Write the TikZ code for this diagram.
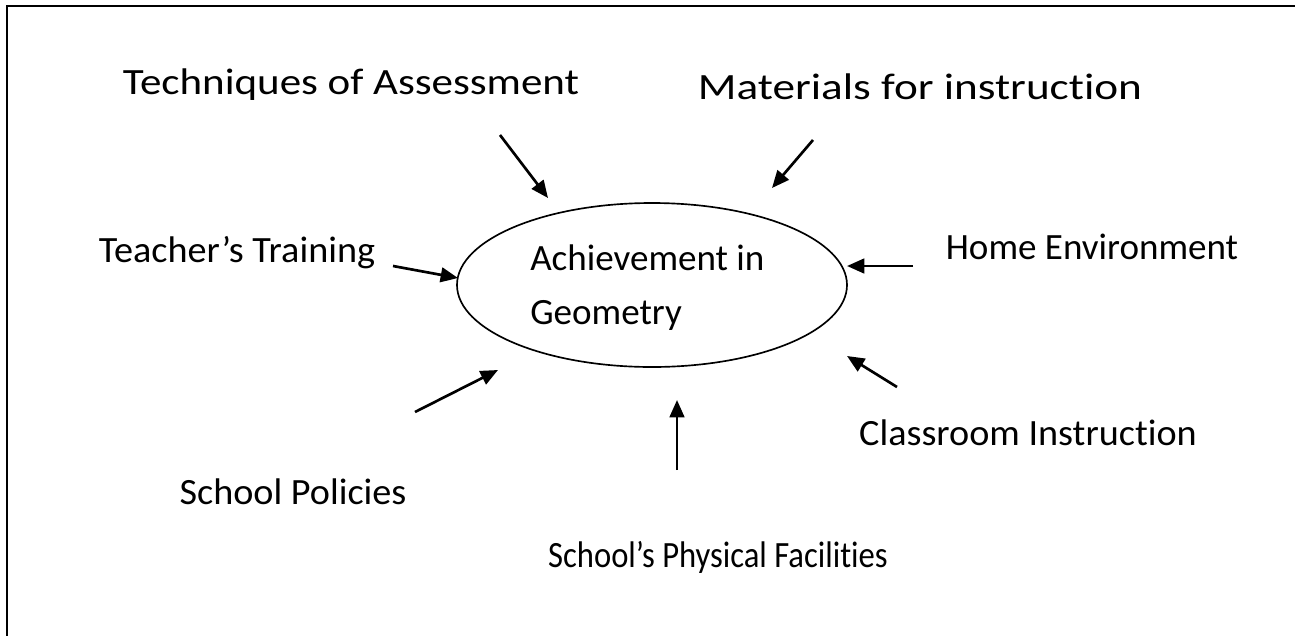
\documentclass[tikz,border=0pt]{standalone}
\usepackage{fontspec}
\setmainfont{Carlito}[Ligatures=NoCommon]
\usetikzlibrary{arrows.meta}

\begin{document}
\begin{tikzpicture}[x=0.75pt,y=0.75pt,yscale=-1,xscale=1,
  factor/.style={anchor=base,inner sep=0pt,font=\fontsize{27.8}{33}\selectfont},
  influence/.style={line width=2pt,-{Triangle[length=13pt,width=11pt]}}]
\useasboundingbox (0,0) rectangle (1295,636);

%Frame (only top and left edges show)
\draw [line width=1.6pt]  (1295,6) -- (7,6) -- (7,636) ;

%Shape: Ellipse
\draw [line width=1.25pt] (652,285) ellipse (195 and 82) ;
\node (goal) [anchor=base west,inner sep=0pt,font=\fontsize{27.8}{33}\selectfont] at (530,270) {Achievement in};
\node (goal2) [anchor=base west,inner sep=0pt,font=\fontsize{27.8}{33}\selectfont] at (530,324) {Geometry};

% Text Node
\node (assess) [factor,xscale=1.16] at (351,94) {Techniques of Assessment};
% Text Node
\node (material) [factor,xscale=1.22] at (920,99) {Materials for instruction};
% Text Node
\node (teacher) [factor,xscale=1.03] at (237,262) {Teacher’s Training};
% Text Node
\node (home) [factor] at (1092,259) {Home Environment};
% Text Node
\node (classroom) [factor,xscale=1.03] at (1028,445) {Classroom Instruction};
% Text Node
\node (policy) [factor,xscale=1.03] at (293,504) {School Policies};
% Text Node
\node (facility) [factor,xscale=0.88] at (718,567) {School’s Physical Facilities};

%Arrow ends
\coordinate (assessT) at (500,135);   \coordinate (assessH) at (548,198);
\coordinate (materialT) at (813,140); \coordinate (materialH) at (772,188);
\coordinate (teacherT) at (393,266);  \coordinate (teacherH) at (458,278);
\coordinate (homeT) at (913,266);     \coordinate (homeH) at (847,266);
\coordinate (classT) at (897,387);    \coordinate (classH) at (847,356);
\coordinate (policyT) at (415,412);   \coordinate (policyH) at (498,370);
\coordinate (facilityT) at (677,470); \coordinate (facilityH) at (677,400);

%Straight Lines
\draw [influence] (assessT) -- (assessH) ;
\draw [influence] (materialT) -- (materialH) ;
\draw [influence] (teacherT) -- (teacherH) ;
\draw [influence] (homeT) -- (homeH) ;
\draw [influence] (classT) -- (classH) ;
\draw [influence] (policyT) -- (policyH) ;
\draw [influence] (facilityT) -- (facilityH) ;
\end{tikzpicture}
\end{document}
